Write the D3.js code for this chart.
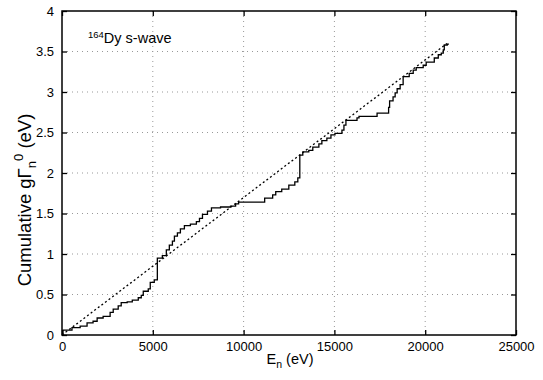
<!DOCTYPE html>
<html><head><meta charset="utf-8">
<script src="https://cdn.jsdelivr.net/npm/d3@7"></script>
<style>
html,body{margin:0;padding:0;background:#fff;}
text{font-family:"Liberation Sans",Arial,sans-serif;fill:#000;}
</style></head>
<body>
<svg id="chart" width="543" height="380"></svg>
<script>
// Cumulative reduced neutron width (staircase), step energies and values after each step
const stepEnergy = [0,55,550,1000,1380,1710,1935,2265,2650,2820,3095,3260,3590,3870,4200,4365,4475,4750,4860,5080,5250,5525,5745,5910,6080,6190,6355,6520,6740,7070,7400,7570,7735,8010,8230,8730,9280,9560,9725,11160,11600,11770,12100,12490,12820,12985,13095,13260,13590,13810,14145,14310,14585,14810,15030,15415,15525,15635,16245,16355,17350,17985,18040,18230,18345,18455,18620,18785,19120,19340,19505,19890,20055,20500,20720,20885,20995,21050,21215,21270];
const stepCumulative = [0,0.06,0.09,0.11,0.15,0.17,0.21,0.23,0.28,0.32,0.36,0.40,0.41,0.43,0.46,0.49,0.54,0.57,0.65,0.68,0.95,0.98,1.05,1.11,1.16,1.22,1.26,1.31,1.35,1.37,1.40,1.44,1.49,1.53,1.57,1.58,1.59,1.62,1.64,1.69,1.73,1.77,1.80,1.85,1.89,1.94,2.22,2.26,2.28,2.32,2.36,2.40,2.43,2.47,2.49,2.53,2.59,2.65,2.68,2.70,2.74,2.81,2.89,2.94,2.99,3.04,3.09,3.19,3.23,3.27,3.30,3.33,3.37,3.42,3.46,3.48,3.52,3.58,3.59,3.60];
// Linear fit (dotted)
const fitEnergy = [0, 21200];
const fitCumulative = [0, 3.6];
const xTickValues = [0,5000,10000,15000,20000,25000];
const yTickValues = [0,0.5,1,1.5,2,2.5,3,3.5,4];
const yTickLabels = ["0","0.5","1","1.5","2","2.5","3","3.5","4"];

const svg = d3.select("#chart");
const L = 62, R = 516, T = 11, B = 335;
const x = d3.scaleLinear().domain([0,25000]).range([L,R]);
const y = d3.scaleLinear().domain([0,4]).range([B,T]);

// grid
const grid = svg.append("g");
grid.selectAll("line.gx").data(xTickValues.slice(1,-1)).enter().append("line")
  .attr("x1", d=>x(d)).attr("x2", d=>x(d)).attr("y1", T).attr("y2", B)
  .attr("stroke","#999").attr("stroke-width",1).attr("stroke-dasharray","1,4");
grid.selectAll("line.gy").data(yTickValues.slice(1,-1)).enter().append("line")
  .attr("y1", d=>y(d)).attr("y2", d=>y(d)).attr("x1", L).attr("x2", R)
  .attr("stroke","#999").attr("stroke-width",1).attr("stroke-dasharray","1,4");

// axes with inward ticks
const tickLen = 5;
const xAxisB = d3.axisBottom(x).tickValues(xTickValues).tickSize(-tickLen).tickPadding(7).tickFormat(d3.format("d"));
const xAxisT = d3.axisTop(x).tickValues(xTickValues).tickSize(-tickLen).tickFormat("");
const yAxisL = d3.axisLeft(y).tickValues(yTickValues).tickSize(-tickLen).tickPadding(8).tickFormat((d,i)=>yTickLabels[i]);
const yAxisR = d3.axisRight(y).tickValues(yTickValues).tickSize(-tickLen).tickFormat("");

function styleAxis(g){
  g.select(".domain").remove();
  g.selectAll(".tick line").attr("stroke","#000").attr("stroke-width",1.3);
  g.selectAll(".tick text").style("font-size","13px").style("font-family","Liberation Sans, Arial, sans-serif");
}
svg.append("g").attr("transform",`translate(0,${B})`).call(xAxisB).call(styleAxis);
svg.append("g").attr("transform",`translate(0,${T})`).call(xAxisT).call(styleAxis);
svg.append("g").attr("transform",`translate(${L},0)`).call(yAxisL).call(styleAxis);
svg.append("g").attr("transform",`translate(${R},0)`).call(yAxisR).call(styleAxis);

// frame
svg.append("rect").attr("x",L).attr("y",T).attr("width",R-L).attr("height",B-T)
  .attr("fill","none").attr("stroke","#000").attr("stroke-width",1.5);

// fit line
const fitData = fitEnergy.map((e,i)=>[e, fitCumulative[i]]);
svg.append("path").datum(fitData)
  .attr("d", d3.line().x(d=>x(d[0])).y(d=>y(d[1])))
  .attr("fill","none").attr("stroke","#000").attr("stroke-width",1.3).attr("stroke-dasharray","2,2.5");

// staircase
const stepData = stepEnergy.map((e,i)=>[e, stepCumulative[i]]);
svg.append("path").datum(stepData)
  .attr("d", d3.line().curve(d3.curveStepAfter).x(d=>x(d[0])).y(d=>y(d[1])))
  .attr("fill","none").attr("stroke","#000").attr("stroke-width",1.3);

// annotation
const ann = svg.append("text").attr("x", 88).attr("y", 43).style("font-size","14.5px");
ann.append("tspan").text("164").style("font-size","9.5px").attr("dy","-5");
ann.append("tspan").text("Dy s-wave").attr("dy","5");

// x title
const xt = svg.append("text").attr("x", 290).attr("y", 364).attr("text-anchor","middle").style("font-size","14.5px");
xt.append("tspan").text("E");
xt.append("tspan").text("n").style("font-size","10.5px").attr("dy","4");
xt.append("tspan").text(" (eV)").attr("dy","-4");

// y title
const yt = svg.append("text").attr("transform","translate(31,200) rotate(-90)").attr("text-anchor","middle").style("font-size","18.5px");
yt.append("tspan").text("Cumulative g\u0393");
yt.append("tspan").text("n").style("font-size","13px").attr("dy","5");
yt.append("tspan").text("0").style("font-size","13px").attr("dy","-13").attr("dx","0");
yt.append("tspan").text(" (eV)").attr("dy","8");
</script>
</body></html>
